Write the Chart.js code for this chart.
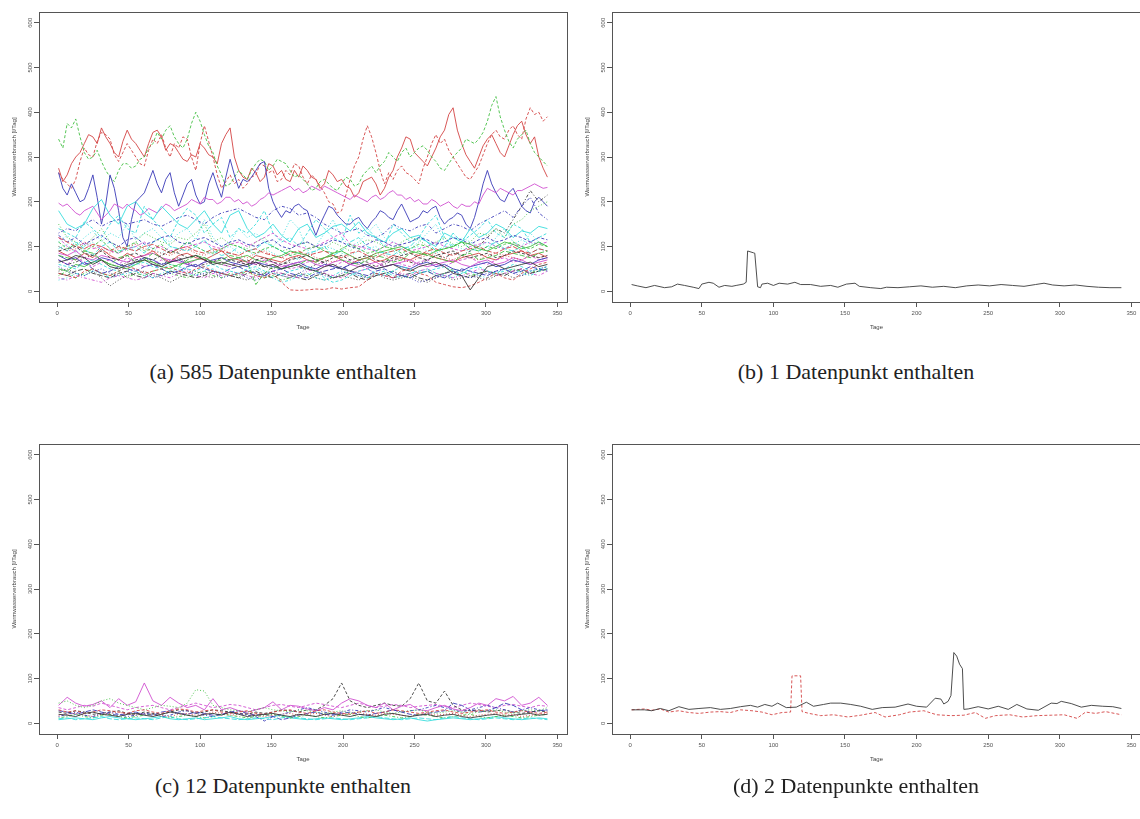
<!DOCTYPE html>
<html><head><meta charset="utf-8">
<script src="https://cdn.jsdelivr.net/npm/chart.js@4.4.1/dist/chart.umd.min.js"></script>
<style>
html,body{margin:0;padding:0;background:#fff;overflow:hidden;width:1140px;height:819px;position:relative}
canvas{position:absolute}
.cap{position:absolute;font-family:"Liberation Serif","DejaVu Serif",serif;font-size:22px;color:#222;white-space:nowrap;transform:translate(-50%,-50%)}
</style></head><body>
<canvas id="ca" width="575" height="340" style="left:0;top:0"></canvas>
<canvas id="cb" width="570" height="340" style="left:573px;top:0"></canvas>
<canvas id="cc" width="575" height="340" style="left:0;top:432px"></canvas>
<canvas id="cd" width="570" height="340" style="left:573px;top:432px"></canvas>
<div class="cap" style="left:283px;top:372px">(a) 585 Datenpunkte enthalten</div>
<div class="cap" style="left:856px;top:372px">(b) 1 Datenpunkt enthalten</div>
<div class="cap" style="left:283px;top:786px">(c) 12 Datenpunkte enthalten</div>
<div class="cap" style="left:856px;top:786px">(d) 2 Datenpunkte enthalten</div>
<script>
// ---------- tick labels ----------
const xTicks = [0,50,100,150,200,250,300,350];
const yTicks = [0,100,200,300,400,500,600];
const xTitle = 'Tage';
const yTitle = 'Warmwasserverbrauch [l/Tag]';

// ---------- days (sampled) ----------
const days = [1,7,13,19,25,31,37,43,49,55,61,67,73,79,85,91,97,103,109,115,121,127,133,139,145,151,157,163,169,175,181,187,193,199,205,211,217,223,229,235,241,247,253,259,265,271,277,283,289,295,301,307,313,319,325,331,337,343];
const days3 = [1,4,7,10,13,16,19,22,25,28,31,34,37,40,43,46,49,52,55,58,61,64,67,70,73,76,79,82,85,88,91,94,97,100,103,106,109,112,115,118,121,124,127,130,133,136,139,142,145,148,151,154,157,160,163,166,169,172,175,178,181,184,187,190,193,196,199,202,205,208,211,214,217,220,223,226,229,232,235,238,241,244,247,250,253,256,259,262,265,268,271,274,277,280,283,286,289,292,295,298,301,304,307,310,313,316,319,322,325,328,331,334,337,340,343];

// ---------- panel (a): prominent series (3-day sampling) ----------
const aRed1 = [275,245,260,285,300,310,330,350,345,330,365,345,330,310,300,335,360,340,330,315, 300,330,355,360,345,315,330,325,310,295,290,305,300,330,320,305,300,285,330,350, 365,300,270,255,250,275,265,245,255,285,280,260,270,250,245,270,255,280,270,255, 250,230,240,270,260,245,250,235,230,210,220,245,250,255,240,215,230,255,270,300, 320,345,340,310,300,290,280,300,320,345,360,395,410,360,330,305,290,275,300,325, 340,350,330,310,300,325,350,370,380,350,330,345,300,275,255];
const aRed2 = [265,250,240,230,250,290,320,305,300,335,355,350,340,305,290,310,330,315,300,285, 280,315,340,330,350,320,300,330,320,345,340,300,270,330,370,335,300,260,230,245, 260,240,250,230,240,255,260,285,280,265,270,245,250,270,260,285,280,255,240,260, 250,235,220,200,195,175,180,215,250,280,300,340,370,345,310,270,240,265,250,270, 280,265,260,250,240,275,300,330,350,330,340,315,300,285,270,255,250,265,280,305, 330,350,360,345,340,360,370,350,340,385,410,395,400,380,390];
const aGrn1 = [340,320,375,365,385,345,310,295,300,315,290,270,255,245,270,285,285,275,280,295, 300,320,330,355,340,360,370,345,330,320,340,375,400,380,350,325,310,280,260,235, 240,255,270,260,250,270,285,295,290,270,280,295,290,285,270,255,260,250,240,225, 230,245,250,240,230,225,240,255,250,235,240,260,270,280,265,280,290,310,300,290, 310,320,300,310,320,325,315,300,290,275,270,285,300,310,320,340,335,330,340,355, 380,415,435,390,360,335,320,340,350,360,330,310,300,290,280];
const aBlu1 = [265,230,215,240,220,200,205,230,260,210,150,195,260,230,180,120,100,160,200,210, 220,245,270,240,220,250,265,220,190,215,240,250,215,195,200,240,265,235,210,255, 295,260,230,250,245,255,270,285,290,230,200,180,165,180,175,190,195,185,180,150, 125,150,170,190,185,170,160,150,150,160,165,150,140,155,165,180,175,165,160,180, 195,175,155,160,165,180,175,185,190,165,150,160,165,175,170,150,140,165,200,240, 270,240,220,205,200,220,230,210,190,180,175,200,210,200,190];
const aMag1 = [197,190,195,185,175,170,180,185,190,175,160,170,180,195,190,185,195,185,180,170, 175,185,180,175,185,195,190,180,185,190,195,205,200,195,210,205,205,195,200,210, 210,200,205,195,200,190,195,205,210,220,215,220,225,230,235,225,230,220,225,235, 230,225,235,230,225,220,215,210,205,215,210,205,200,210,215,205,210,220,225,215, 215,205,210,200,205,195,195,205,200,190,195,200,190,185,195,190,190,200,195,215, 230,225,220,230,225,220,215,225,225,230,235,240,235,230,232];

// ---------- panel (a): other series (6-day sampling) ----------
const aGrn2 = [150,120,110,100,120,140,110,100,90,110, 130,120,110,105,120,115,130,150,110,120, 105,100,95,110,120,100,90,95,105,110, 100,95,110,100,90,105,115,110,100,95, 110,120,115,100,110,120,105,100,110,130, 125,140,120,150,160,180,190,200];
const aBlu2 = [130,140,135,150,160,145,155,160,150,155, 160,150,145,155,165,170,160,150,165,175, 180,185,175,165,160,180,190,185,170,175, 165,150,140,130,135,140,125,120,130,150, 140,135,145,150,130,140,150,145,135,150, 160,170,180,165,190,210,175,160];
const aMag2 = [120,100,90,110,95,100,90,85,95,100, 110,95,100,90,95,100,105,110,100,95, 105,110,100,110,120,130,115,105,100,95, 100,110,120,130,105,100,95,90,100,110, 100,90,95,100,110,100,95,90,100,105, 110,100,95,105,100,110,105,110];
const aCyn1 = [180,150,140,150,185,205,170,150,190,200, 175,160,190,170,150,140,160,180,150,130, 170,180,140,120,130,150,125,110,140,150, 120,130,145,150,135,155,130,120,110,130, 140,120,125,110,100,130,120,110,140,120, 130,150,140,120,135,130,145,140];
const aCyn2 = [140,130,120,155,140,120,150,170,140,130, 190,160,140,120,160,185,170,130,150,165, 120,140,130,150,180,130,110,120,100,130, 160,140,120,110,170,130,140,120,100,150, 130,110,120,150,170,120,100,110,125,140, 160,130,120,150,140,110,120,130];
const aCyn3 = [110,125,100,120,135,110,130,120,150,115, 130,140,120,110,130,140,115,160,120,100, 110,140,120,130,110,100,120,160,140,90, 100,130,160,120,100,110,130,150,120,110, 100,95,110,130,150,110,100,120,110,100, 90,120,140,110,100,130,110,100];
const aCyn4 = [100,90,110,95,80,100,110,90,95,100, 85,110,120,100,95,90,100,115,90,80, 85,100,90,95,110,100,90,80,70,85, 90,100,80,90,110,120,100,90,85,80, 95,100,120,110,90,100,130,110,95,90, 100,110,95,90,100,85,95,90];
const aBlk1 = [70,60,65,75,80,70,60,55,65,70, 75,65,60,70,75,65,55,60,65,60, 55,65,70,60,55,50,60,65,55,50, 60,65,55,50,60,70,65,55,60,70, 75,65,60,70,80,75,85,80,90,100, 120,140,130,160,190,225,200,215];
const aLow1 = [65,70,80,75,60,70,55,50,60,65, 70,60,55,65,70,75,80,70,60,65, 60,55,60,65,55,60,50,55,60,50, 45,55,60,50,45,55,60,50,55,60, 50,45,55,60,65,55,40,35,3,30, 55,60,50,55,60,65,55,60];
const aLow2 = [40,35,30,45,50,40,35,45,55,50, 40,45,50,55,45,40,50,55,45,40, 35,40,45,35,30,40,20,3,2,3, 5,4,8,5,8,10,25,40,35,30, 45,50,40,35,20,15,10,8,12,20, 30,40,30,25,40,50,60,65];
const aLow3 = [80,75,70,90,85,70,60,75,80,65, 70,85,75,60,55,70,80,75,65,70, 80,75,65,15,40,55,50,55,60,70, 65,75,80,70,65,60,70,80,75,65, 70,85,90,80,75,70,65,80,85,70, 75,80,90,85,80,75,85,90];
const aLow4 = [55,45,40,35,45,50,40,35,45,50, 40,30,35,40,45,50,35,40,45,30, 35,40,30,25,35,40,35,30,40,50, 45,35,30,40,45,35,30,35,40,45, 35,30,20,25,30,40,45,35,30,35, 40,45,50,40,35,45,50,55];
const aLow5 = [60,55,50,65,70,60,50,45,55,60, 65,55,50,60,55,50,45,55,60,50, 45,40,50,55,45,40,35,45,50,55, 45,30,20,25,35,45,50,40,35,45, 55,50,40,45,50,55,45,40,50,55, 45,40,50,60,55,45,50,55];
const aLow6 = [30,25,35,30,25,20,30,35,30,25, 30,40,35,30,40,45,35,30,40,35, 45,40,35,30,40,45,40,35,30,45, 50,40,35,30,40,45,50,40,35,30, 40,35,45,50,40,35,30,35,40,50, 45,35,40,45,50,40,35,45];
const aLow7 = [90,95,100,85,80,90,75,70,80,85, 75,70,80,90,85,75,80,70,65,75, 70,65,60,70,75,65,60,70,75,80, 70,65,75,80,70,75,80,70,65,75, 80,85,75,70,80,85,90,80,75,80, 85,75,80,90,85,80,75,80];
const aLow8 = [100,90,95,110,100,90,85,95,100,105, 95,90,85,80,90,95,85,80,90,95, 85,80,75,85,90,80,75,70,80,85, 75,70,65,75,80,70,75,85,80,75, 70,65,75,80,85,75,70,80,75,70, 80,85,80,75,70,80,75,80];
const aLow9 = [50,45,60,55,65,70,60,55,50,60, 70,65,55,50,60,65,70,75,65,60, 70,75,80,70,65,75,80,90,85,80, 70,75,85,90,80,70,75,85,90,95, 100,90,85,80,90,95,100,110,105,95, 90,100,110,105,95,100,110,100];
const aLow10 = [70,60,55,65,50,40,45,55,50,45, 55,60,50,40,45,55,60,50,45,40, 50,55,45,40,35,45,50,40,35,30, 40,45,50,55,45,40,35,45,50,40, 35,30,40,45,35,30,40,50,45,40, 35,45,50,40,45,55,50,45];
const aLow11 = [25,30,40,35,45,40,30,35,40,45, 35,30,40,45,50,40,35,45,50,40, 35,40,45,50,40,30,20,25,35,40, 30,25,35,45,40,35,30,40,45,35, 30,40,45,50,40,35,30,40,45,35, 30,40,45,50,40,35,45,50];
const aLow12 = [85,80,90,75,70,80,75,70,65,75, 80,85,75,70,65,60,70,75,65,60, 70,75,65,60,70,65,55,60,65,70, 60,55,65,70,60,55,60,65,55,60, 65,70,60,55,60,65,70,60,55,65, 70,60,65,75,70,60,65,70];
const aLow13 = [45,50,40,35,45,30,12,25,35,40, 45,35,30,20,30,40,45,35,30,40, 35,30,25,35,40,45,35,30,40,35, 30,25,30,35,30,25,35,40,30,25, 30,35,25,20,30,35,25,30,35,30, 25,35,40,30,35,40,45,50];
const aLow14 = [120,110,100,95,105,100,90,100,95,90, 100,105,95,85,95,100,90,85,95,90, 85,80,90,95,85,80,75,85,90,80, 85,90,80,75,85,90,80,75,85,90, 95,85,80,90,95,85,80,90,95,100, 90,85,95,100,90,85,95,90];
const aLow15 = [110,95,105,90,100,115,95,85,100,110, 90,95,105,85,95,110,100,90,85,95, 105,100,90,85,95,100,90,80,85,95, 100,90,85,95,105,95,85,90,100,95, 85,95,105,100,90,95,100,110,95,90, 100,95,105,110,100,95,105,100];
const aLow16 = [80,70,75,60,65,75,70,60,55,65, 75,70,60,65,70,60,55,65,70,75, 65,60,55,65,60,55,50,60,65,55, 50,60,55,50,60,65,55,50,55,60, 55,50,60,65,55,60,50,45,55,60, 65,55,60,70,65,60,70,75];
const aLow17 = [95,105,85,100,110,90,95,85,100,90, 105,95,85,100,95,110,100,90,80,95, 100,85,90,80,95,85,75,90,85,80, 90,100,95,85,80,90,95,100,85,90, 80,95,100,90,85,95,105,95,90,100, 110,100,95,105,115,105,110,100];
const aLow18 = [70,60,75,65,55,65,70,60,75,65, 55,60,70,65,75,60,55,65,70,60, 55,65,60,70,65,55,60,50,55,65, 70,60,55,65,70,60,50,55,65,70, 60,55,65,70,60,55,65,70,75,65, 60,70,75,65,70,80,70,75];
const aLow19 = [40,35,45,50,40,35,30,40,45,35, 30,40,35,45,40,35,30,35,45,40, 35,30,40,45,35,30,40,35,30,25, 35,40,30,35,40,30,25,35,40,30, 35,40,30,25,35,40,45,35,30,40, 45,40,35,45,50,40,45,50];
const aLow20 = [90,80,70,85,75,95,80,70,85,75, 80,90,75,65,80,85,75,70,80,90, 75,70,65,80,75,70,65,75,80,70, 65,75,80,70,60,70,75,65,70,80, 75,70,80,85,75,70,65,75,80,85, 75,70,80,85,90,80,85,75];
const aLow21 = [35,45,30,40,50,40,35,45,30,40, 35,45,50,40,35,30,40,45,35,30, 40,35,45,40,30,35,25,30,40,35, 45,40,30,35,45,40,30,35,40,45, 35,30,40,45,35,40,50,45,35,40, 45,35,40,50,45,40,50,45];
const aLow22 = [125,110,120,105,115,125,110,100,115,120, 105,110,120,125,110,105,115,120,110,100, 110,115,105,100,110,115,100,95,105,110, 100,105,115,110,100,95,105,115,110,100, 105,110,120,115,105,110,120,115,105,115, 120,110,115,125,120,110,120,115];

// ---------- panel (b) ----------
const bDays = [1,5,11,17,24,29,33,38,44,48,50,55,58,62,66,71,74,79,81,82,86,87,89,91,92,96,100,104,110,115,119,126,133,140,145,151,157,160,168,175,179,187,195,203,211,219,227,235,243,251,259,267,275,283,289,295,303,311,319,327,335,343];
const bVals = [15,12,8,13,8,10,16,13,9,6,16,20,18,9,13,11,13,16,20,90,86,85,10,8,16,18,13,18,16,20,15,15,11,13,9,16,18,11,8,6,9,8,10,12,9,11,8,12,14,12,15,13,11,15,18,14,12,14,11,9,8,8];

// ---------- panel (c) ----------
const c1 = [20,18,15,22,25,20,18,15,20,22, 18,15,20,25,22,18,15,20,22,18, 25,20,15,18,20,22,18,15,20,18, 15,20,22,18,15,20,18,15,20,22, 18,15,18,20,15,18,20,15,12,15, 18,20,15,18,20,22,18,20];
const c2 = [30,25,28,22,25,30,28,25,22,28, 30,25,22,28,32,30,25,28,30,25, 22,25,28,22,20,25,28,30,25,22, 28,30,25,22,20,25,28,22,25,30, 28,25,22,25,28,30,25,22,25,28, 30,25,22,25,28,25,22,25];
const c3 = [45,50,40,35,40,50,55,45,40,35, 30,35,40,38,35,45,75,72,40,35, 30,28,25,30,35,30,28,25,30,28, 25,22,25,28,22,25,28,30,25,22, 25,28,30,25,22,25,28,25,22,25, 28,30,25,22,28,30,28,35];
const c4 = [15,20,25,18,15,22,25,20,15,18, 22,20,15,18,25,28,22,18,15,20, 25,22,18,15,5,15,20,25,30,35, 30,25,20,25,30,28,25,30,35,30, 25,28,30,35,40,35,30,25,30,35, 40,35,30,25,30,35,30,28];
const c5 = [10,12,8,10,12,15,10,8,10,12, 10,8,12,15,10,8,10,12,15,12, 10,8,10,12,10,8,12,15,12,10, 8,10,12,10,8,10,12,15,12,10, 8,10,12,10,8,12,15,12,10,8, 10,12,10,8,10,12,10,8];
const c6 = [40,58,45,38,42,50,35,55,40,48, 90,50,40,58,45,35,40,30,55,30, 35,28,25,30,35,48,30,40,38,32, 28,35,30,45,55,50,40,35,45,30, 38,42,30,28,35,40,32,28,35,45, 40,55,50,60,40,45,58,40];
const c7 = [25,22,28,25,20,22,25,28,22,20, 25,22,20,25,30,28,22,25,30,28, 25,22,20,25,22,25,30,28,25,30, 30,40,55,90,50,40,35,40,45,40, 38,55,90,50,45,72,40,30,28,30, 25,28,30,25,22,25,28,25];
const c8 = [18,20,22,18,15,20,22,25,20,18, 22,20,18,15,20,22,18,20,25,22, 18,20,22,18,15,18,20,22,18,20, 22,18,15,20,22,25,20,18,22,20, 18,15,20,22,18,20,22,18,15,18, 20,22,18,20,15,18,20,22];
const c9 = [12,15,20,15,12,18,20,15,12,15, 18,20,15,12,15,18,15,12,15,20, 18,15,12,15,18,20,15,12,15,18, 15,12,15,18,20,15,12,15,18,15, 12,15,20,18,15,12,15,18,20,15, 12,15,18,15,12,15,18,20];
const c10 = [28,25,20,25,30,25,20,18,22,25, 20,18,25,28,22,20,25,22,18,20, 25,28,22,18,20,15,8,12,18,22, 25,20,18,22,25,20,18,22,25,30, 25,20,18,22,25,28,45,40,30,25, 28,35,45,40,30,25,28,30];
const c11 = [8,10,12,10,8,12,15,12,10,8, 10,12,15,10,8,10,12,8,10,12, 15,10,8,10,12,15,18,12,10,8, 10,12,10,8,10,12,15,12,10,8, 10,12,8,5,8,10,12,10,8,10, 12,15,12,10,8,10,12,10];
const c12 = [35,30,35,40,38,45,40,35,30,35, 38,40,35,30,35,40,45,40,35,38, 42,40,35,30,35,40,42,38,35,40, 45,42,38,35,40,45,40,35,38,42, 40,35,38,40,42,38,35,40,45,42, 38,35,40,42,38,35,40,38];

// ---------- panel (d) ----------
const dBlackDays = [1,10,15,21,27,34,41,48,56,63,70,77,84,89,94,99,103,109,116,123,128,135,140,147,154,161,169,176,185,194,200,207,213,217,219,222,224,226,228,230,232,233,236,243,250,257,264,270,277,285,294,298,301,308,315,322,330,337,343];
const dBlackVals = [30,30,28,33,28,37,31,33,35,31,33,37,40,36,42,38,45,35,36,47,38,42,45,45,42,38,31,35,36,43,38,36,56,54,43,49,62,158,150,132,122,31,32,37,32,38,31,42,32,29,45,44,49,44,36,40,38,37,33];
const dRedDays = [1,10,15,21,27,34,41,48,56,63,70,77,85,92,99,106,112,113,119,120,125,133,142,152,161,171,178,188,195,205,214,224,233,241,248,255,265,274,284,294,303,312,318,325,332,343];
const dRedVals = [30,32,29,32,25,28,24,22,25,26,24,30,28,25,19,24,25,106,106,26,22,17,19,14,18,24,14,19,25,28,19,17,18,24,11,17,19,14,17,18,19,11,25,22,26,19];

// ---------- styles ----------
const PAL = {k:'#3a3a3a', r:'#d44444', g:'#44c044', b:'#3a3ab8', c:'#38dcdc', m:'#d050d0'};
const LTY = {s:[], d:[3,2], o:[1,2], dd:[1,2,3,2], ld:[5,2]};

const seriesA = [
  [aLow1,'k','s'],[aLow2,'r','d'],[aLow3,'g','ld'],[aLow4,'b','o'],[aLow5,'c','d'],[aLow6,'m','dd'],
  [aLow7,'k','d'],[aLow8,'r','o'],[aLow9,'g','s'],[aLow10,'b','ld'],[aLow11,'c','dd'],[aLow12,'m','s'],
  [aLow13,'k','o'],[aLow14,'r','ld'],[aLow15,'g','d'],[aLow16,'b','s'],[aLow17,'c','o'],[aLow18,'m','d'],
  [aLow19,'k','ld'],[aLow20,'r','s'],[aLow21,'g','dd'],[aLow22,'b','d'],
  [aMag2,'m','d'],[aCyn4,'c','ld'],[aGrn2,'g','o'],[aCyn3,'c','o'],
  [aCyn2,'c','d'],[aCyn1,'c','s'],[aBlu2,'b','dd'],[aBlk1,'k','dd']
].map(([v,c,l]) => ({days, vals:v, col:c, lty:l})).concat([
  [aMag1,'m','s'],[aBlu1,'b','s'],[aGrn1,'g','d'],[aRed2,'r','d'],[aRed1,'r','s']
].map(([v,c,l]) => ({days:days3, vals:v, col:c, lty:l})));
const seriesB = [{days:bDays, vals:bVals, col:'k', lty:'s'}];
const cCols = ['k','r','g','b','c','m'], cLty = ['s','d','o','dd','ld'];
const seriesC = [c1,c2,c3,c4,c5,c6,c7,c8,c9,c10,c11,c12].map((v,i) => ({days, vals:v, col:cCols[i%6], lty:cLty[i%5]}));
const seriesD = [{days:dBlackDays, vals:dBlackVals, col:'k', lty:'s'},{days:dRedDays, vals:dRedVals, col:'r', lty:'d'}];

Chart.defaults.font.family = '"Liberation Sans", Arial, sans-serif';
const AX = '#555';
const boxPlugin = {id:'rbox', afterDraw(chart){
  const {ctx, chartArea:a} = chart;
  ctx.save(); ctx.strokeStyle = AX; ctx.lineWidth = 1;
  ctx.strokeRect(Math.round(a.left)+0.5, Math.round(a.top)+0.5, Math.round(a.right-a.left), Math.round(a.bottom-a.top));
  ctx.restore();
}};

function makeChart(id, series, rightPad){
  new Chart(document.getElementById(id), {
    type:'line',
    data:{datasets: series.map(s => ({
      data: s.days.map((d,i) => ({x:d, y:s.vals[i]})),
      borderColor: PAL[s.col], borderDash: LTY[s.lty], borderWidth: 0.9,
      pointRadius: 0, tension: 0, fill: false
    }))},
    options:{
      responsive:false, animation:false, events:[],
      plugins:{legend:{display:false}, tooltip:{enabled:false}},
      layout:{padding:{left:0, top:12, right:rightPad, bottom:0}},
      scales:{
        x:{type:'linear', min:-12.7, max:356.7,
          afterBuildTicks: s => { s.ticks = xTicks.map(v => ({value:v})); },
          afterFit: s => { s.height = 38; },
          grid:{drawOnChartArea:false, drawTicks:true, tickLength:5, color:AX},
          border:{display:false},
          ticks:{font:{size:6}, color:'#555', padding:2.4, maxRotation:0, minRotation:0, autoSkip:false},
          title:{display:true, text:xTitle, font:{size:6}, color:'#444', padding:{top:0, bottom:9.4}}
        },
        y:{type:'linear', min:-24, max:624,
          afterBuildTicks: s => { s.ticks = yTicks.map(v => ({value:v})); },
          afterFit: s => { s.width = 39; },
          grid:{drawOnChartArea:false, drawTicks:true, tickLength:5, color:AX},
          border:{display:false},
          ticks:{font:{size:6}, color:'#555', padding:-1, minRotation:90, maxRotation:90, autoSkip:false, crossAlign:'center'},
          title:{display:true, text:yTitle, font:{size:6}, color:'#444', padding:{top:10.4, bottom:0}}
        }
      }
    },
    plugins:[boxPlugin]
  });
}
makeChart('ca', seriesA, 8);
makeChart('cb', seriesB, 2);
makeChart('cc', seriesC, 8);
makeChart('cd', seriesD, 2);
</script>
</body></html>
